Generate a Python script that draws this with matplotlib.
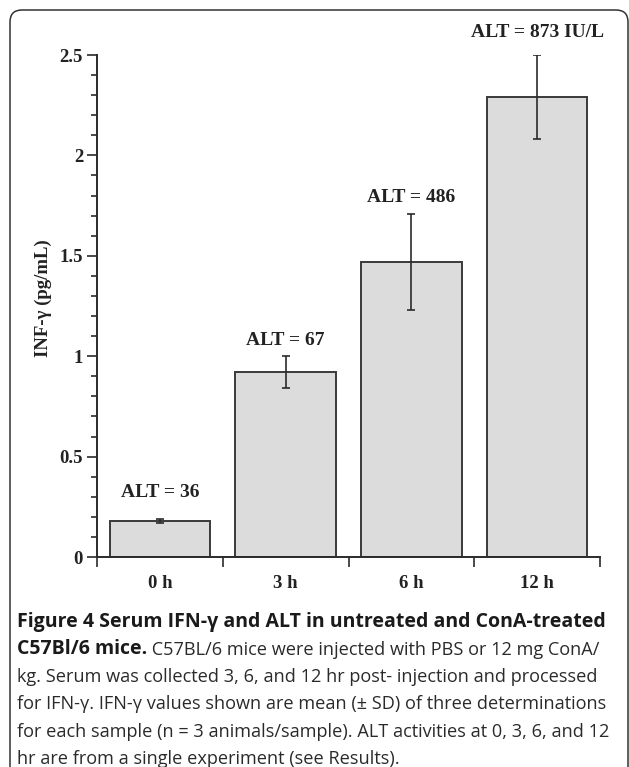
import matplotlib

matplotlib.use("Agg")
import matplotlib.pyplot as plt
from matplotlib.patches import FancyBboxPatch
from matplotlib.transforms import IdentityTransform

# data
groups = ["0 h", "3 h", "6 h", "12 h"]
ifn_mean = [0.18, 0.92, 1.47, 2.29]
ifn_sd = [0.01, 0.08, 0.24, 0.21]
alt_labels = ["ALT = 36", "ALT = 67", "ALT = 486", "ALT = 873 IU/L"]
alt_label_y = [0.32, 1.08, 1.79, 2.61]

caption_bold_1 = "Figure 4 Serum IFN-γ and ALT in untreated and ConA-treated"
caption_bold_2 = "C57Bl/6 mice."
caption_rest_2 = " C57BL/6 mice were injected with PBS or 12 mg ConA/"
caption_lines = [
    "kg. Serum was collected 3, 6, and 12 hr post- injection and processed",
    "for IFN-γ. IFN-γ values shown are mean (± SD) of three determinations",
    "for each sample (n = 3 animals/sample). ALT activities at 0, 3, 6, and 12",
    "hr are from a single experiment (see Results).",
]

W, H = 629, 767
INK = "#2b2b2b"
SERIF = "Liberation Serif"
SANS = "Open Sans"


def px(x, y):
    return x / W, 1 - y / H


fig = plt.figure(figsize=(W / 100, H / 100), dpi=100)
ax = fig.add_axes([97 / W, 1 - 557 / H, (600 - 97) / W, (557 - 55) / H])

x = list(range(len(groups)))
ax.bar(x, ifn_mean, width=0.8, color="#dcdcdc", edgecolor="#3a3a3a", linewidth=1.4)
ax.errorbar(x, ifn_mean, yerr=ifn_sd, fmt="none", ecolor=INK, elinewidth=1.2,
            capsize=3, capthick=1.2)
for xi, lab, ly in zip(x, alt_labels, alt_label_y):
    ax.text(xi, ly, lab, ha="center", va="center", family=SERIF, weight="bold",
            fontsize=14, color="#222", clip_on=False)

ax.set_xlim(-0.5, 3.5)
ax.set_ylim(0, 2.5)
for s in ("top", "right"):
    ax.spines[s].set_visible(False)
for s in ("left", "bottom"):
    ax.spines[s].set_color(INK)
    ax.spines[s].set_linewidth(1.4)

ax.set_yticks([0, 0.5, 1, 1.5, 2, 2.5], ["0", "0.5", "1", "1.5", "2", "2.5"])
ax.set_yticks([i / 10 for i in range(26)], minor=True)
ax.tick_params(axis="y", which="major", length=7, width=1.2, color=INK, pad=3)
ax.tick_params(axis="y", which="minor", length=4.3, width=1.2, color=INK)

ax.set_xticks(x, groups)
ax.set_xticks([-0.5, 0.5, 1.5, 2.5, 3.5], minor=True)
ax.tick_params(axis="x", which="major", length=0, pad=13)
ax.tick_params(axis="x", which="minor", length=7, width=1.2, color=INK)

for lab in ax.get_xticklabels() + ax.get_yticklabels():
    lab.set_family(SERIF)
    lab.set_weight("bold")
    lab.set_fontsize(13.5)
    lab.set_color("#222")

fig.text(*px(43, 298), "INF-γ (pg/mL)", rotation=90, ha="center", va="center",
         family=SERIF, weight="bold", fontsize=13.5, color="#222")

# caption
bold_kw = dict(family=SANS, fontsize=14, weight="bold", color="#1a1a1a")
reg_kw = dict(family=SANS, fontsize=13.1, color="#2a2a2a")
base = [627, 654, 682, 709, 737, 764]
fig.text(*px(17, base[0]), caption_bold_1, va="baseline", **bold_kw)
t2 = fig.text(*px(17, base[1]), caption_bold_2, va="baseline", **bold_kw)
ax.annotate(caption_rest_2, xy=(1, 0), xycoords=t2, va="bottom", ha="left", **reg_kw)
for yb, line in zip(base[2:], caption_lines):
    fig.text(*px(17, yb), line, va="baseline", **reg_kw)

# rounded frame, open at the bottom edge of the image
frame = FancyBboxPatch((10, -60), 618, H - 10 + 60,
                       boxstyle="round,pad=0,rounding_size=12",
                       transform=IdentityTransform(), fill=False,
                       edgecolor="#333", linewidth=1.1)
fig.add_artist(frame)

fig.savefig("out.png", dpi=100)
